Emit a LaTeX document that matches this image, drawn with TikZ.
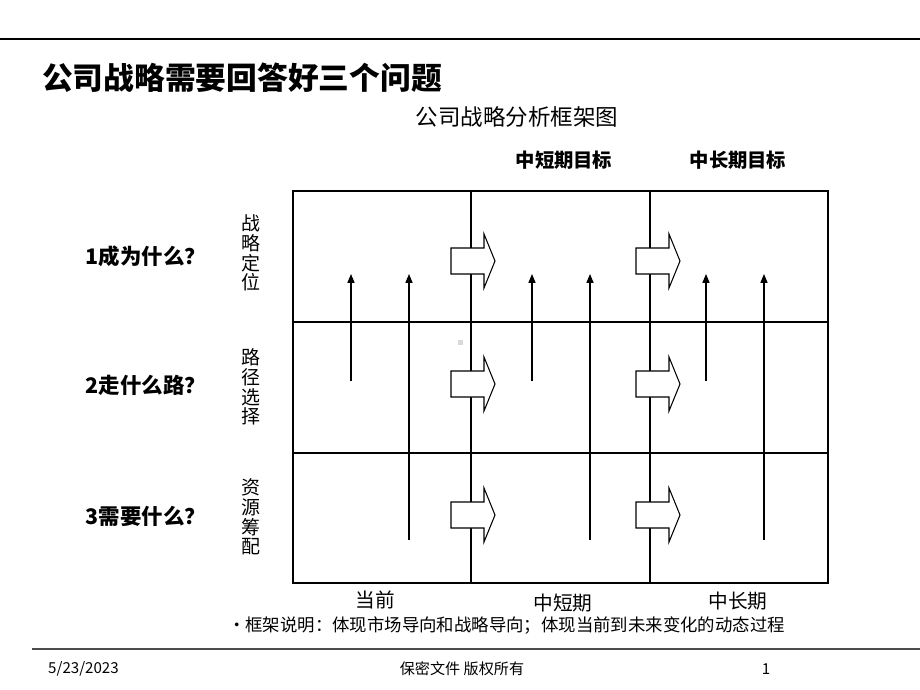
\documentclass[tikz,border=0pt]{standalone}
\usepackage{fontspec}
\setmainfont{Liberation Sans}
\newfontfamily\cjk{Noto Sans CJK SC}
\usepackage{tikz}
\usetikzlibrary{arrows.meta}

\tikzset{
  gridline/.style={line width=0.8pt},
  uparrow/.style={line width=0.6pt,-{Triangle[width=4pt,length=5pt]}},
  blockarrow/.style={line width=0.6pt,fill=white},
  titletext/.style={font=\cjk\bfseries\fontsize{17.5}{20}\selectfont},
  subtext/.style={font=\cjk\fontsize{12.8}{15}\selectfont},
  headtext/.style={font=\cjk\bfseries\fontsize{11}{13}\selectfont},
  asktext/.style={font=\cjk\bfseries\fontsize{12.2}{14}\selectfont},
  sidetext/.style={font=\cjk\fontsize{10.8}{11.3}\selectfont,align=center,inner sep=0pt},
  timetext/.style={font=\cjk\fontsize{11.2}{13}\selectfont},
  notetext/.style={font=\cjk\fontsize{9.9}{11}\selectfont},
  foottext/.style={font=\cjk\fontsize{8.6}{10}\selectfont}
}

\begin{document}
\begin{tikzpicture}[x=0.02cm,y=-0.02cm]
        \useasboundingbox (0,0) rectangle (920,690);
        \draw[line width=0.6pt] (0,39) -- (920,39);
        \draw[line width=0.6pt,black!70] (32,649) -- (920,649);
        \node[titletext,anchor=west] (title) at (36,78) {公司战略需要回答好三个问题};
        \node[subtext] (frametitle) at (517,117) {公司战略分析框架图};
        \node[headtext] (midgoal) at (564,160) {中短期目标};
        \node[headtext] (longgoal) at (738,160) {中长期目标};
        % frame
        \draw[gridline] (293,191) rectangle (828,583);
        \draw[gridline] (471,191) -- (471,583);
        \draw[gridline] (650,191) -- (650,583);
        \draw[gridline] (293,322) -- (828,322);
        \draw[gridline] (293,453) -- (828,453);
        \fill[black!15] (458,340) rectangle (463,345);
        % vertical arrows
        \draw[uparrow] (351,381) -- (351,274);
        \draw[uparrow] (409,540) -- (409,274);
        \draw[uparrow] (532,381) -- (532,274);
        \draw[uparrow] (590,540) -- (590,274);
        \draw[uparrow] (706,381) -- (706,274);
        \draw[uparrow] (764,540) -- (764,274);
        % block arrows
        \draw[blockarrow,shift={(451,261)}] (0,-13) -- (33,-13) -- (33,-27) -- (44,0) -- (33,27) -- (33,13) -- (0,13) -- cycle;
        \draw[blockarrow,shift={(451,384)}] (0,-13) -- (33,-13) -- (33,-27) -- (44,0) -- (33,27) -- (33,13) -- (0,13) -- cycle;
        \draw[blockarrow,shift={(451,515)}] (0,-13) -- (33,-13) -- (33,-27) -- (44,0) -- (33,27) -- (33,13) -- (0,13) -- cycle;
        \draw[blockarrow,shift={(636,261)}] (0,-13) -- (33,-13) -- (33,-27) -- (44,0) -- (33,27) -- (33,13) -- (0,13) -- cycle;
        \draw[blockarrow,shift={(636,384)}] (0,-13) -- (33,-13) -- (33,-27) -- (44,0) -- (33,27) -- (33,13) -- (0,13) -- cycle;
        \draw[blockarrow,shift={(636,515)}] (0,-13) -- (33,-13) -- (33,-27) -- (44,0) -- (33,27) -- (33,13) -- (0,13) -- cycle;
        % row labels
        \node[asktext] (ask1) at (146,256) {1成为什么？};
        \node[asktext] (ask2) at (146,385) {2走什么路？};
        \node[asktext] (ask3) at (146,516) {3需要什么？};
        \node[sidetext] (side1) at (251,253) {战\\略\\定\\位};
        \node[sidetext] (side2) at (251,387) {路\\径\\选\\择};
        \node[sidetext] (side3) at (251,517) {资\\源\\筹\\配};
        % time labels
        \node[timetext] (now) at (375,600) {当前};
        \node[timetext] (midterm) at (563,603) {中短期};
        \node[timetext] (longterm) at (738,601) {中长期};
        \node[notetext,anchor=west] (note) at (222,626) {•框架说明：体现市场导向和战略导向；体现当前到未来变化的动态过程};
        % footer
        \node[foottext,anchor=west] (date) at (42,669) {5/23/2023};
        \node[foottext] (secret) at (462,669) {保密文件 版权所有};
        \node[foottext] (page) at (766,669) {1};
\end{tikzpicture}
\end{document}
